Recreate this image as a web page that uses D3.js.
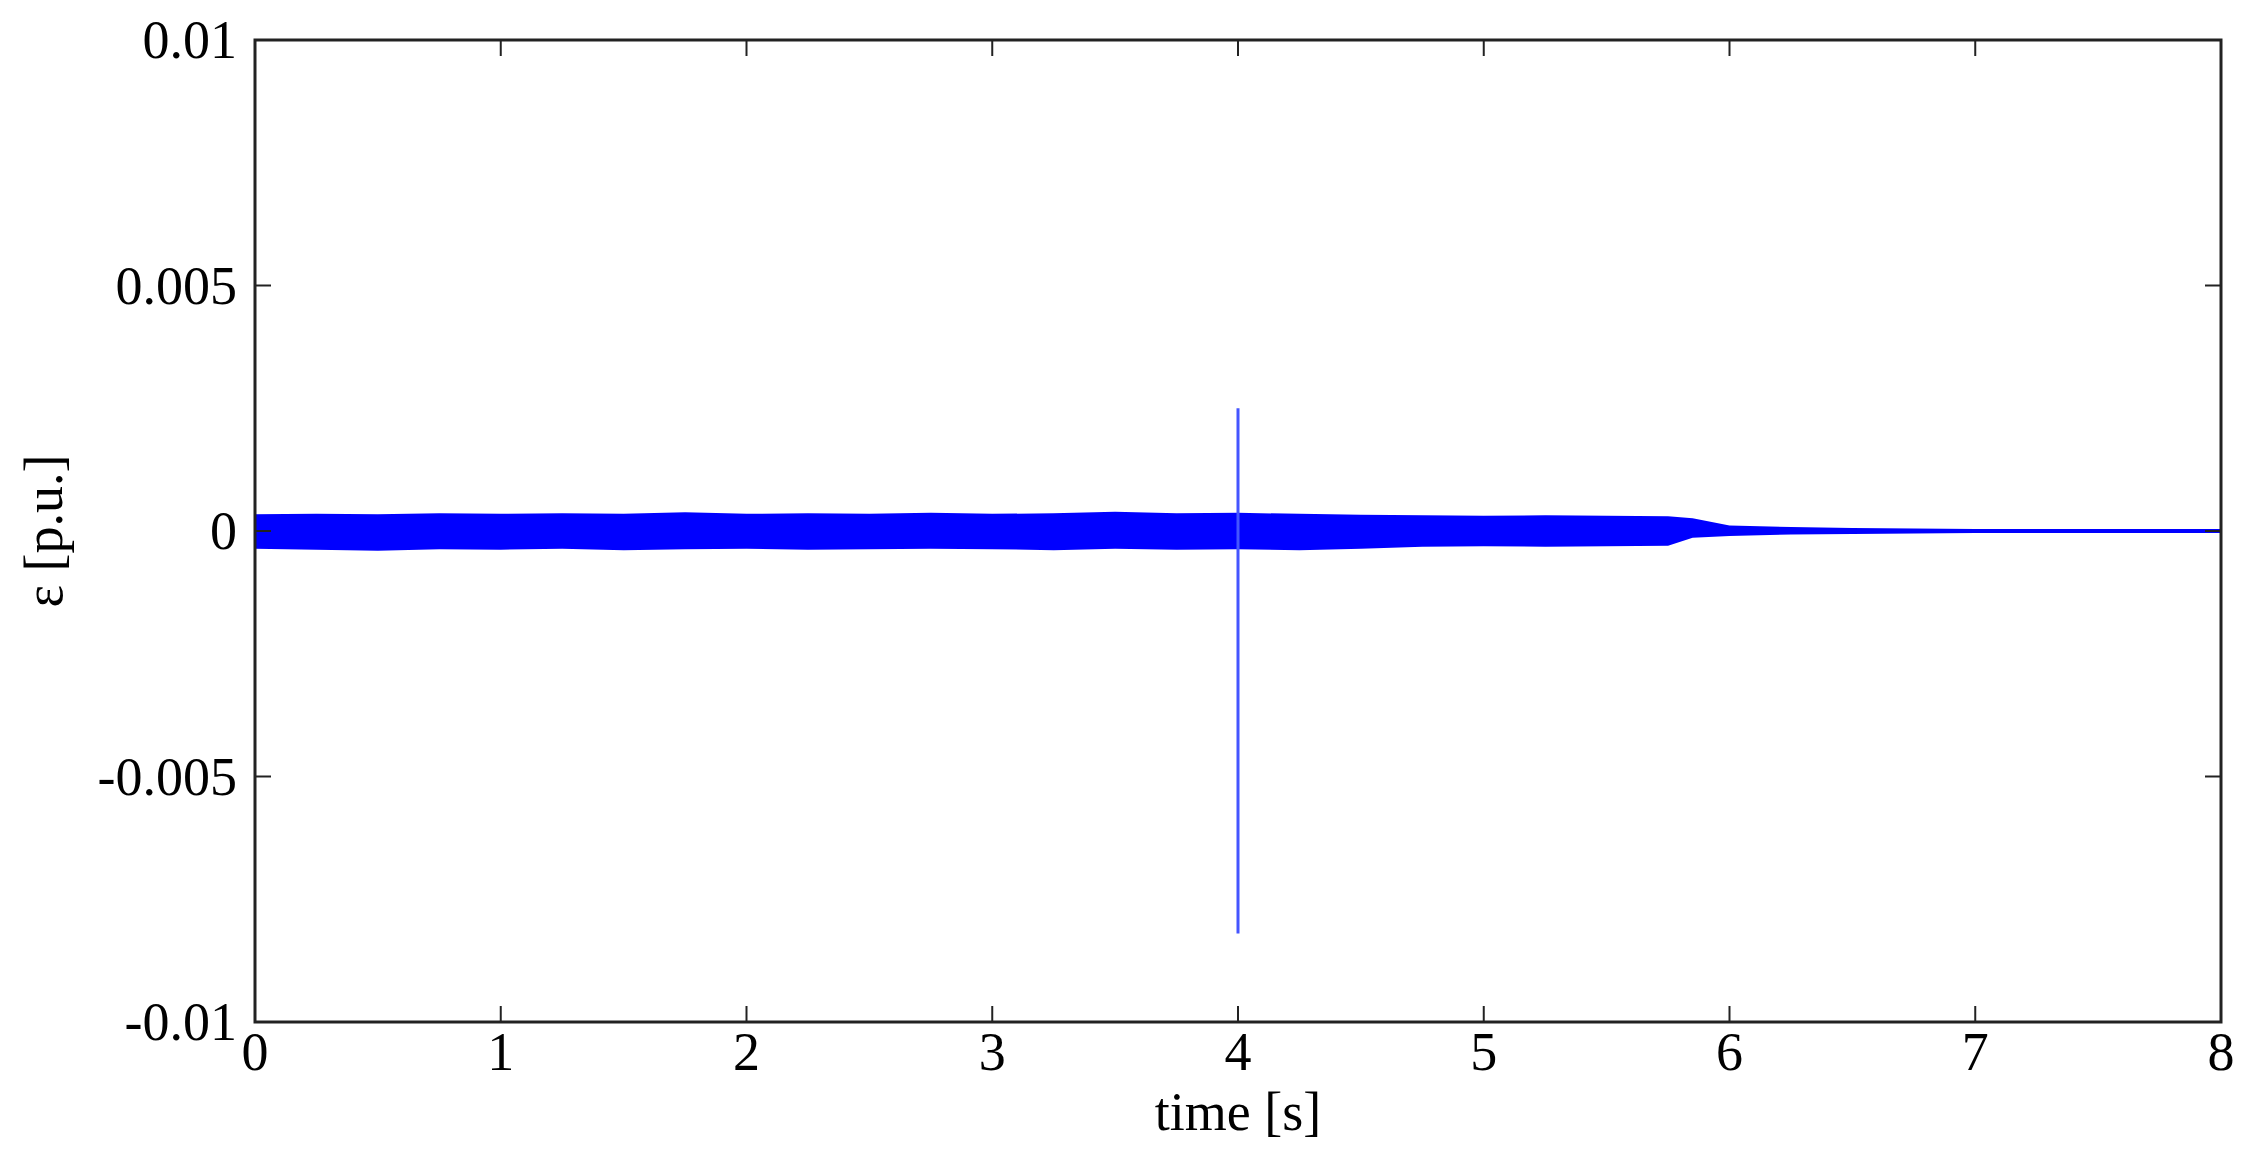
<!DOCTYPE html>
<html>
<head>
<meta charset="utf-8">
<script src="https://cdn.jsdelivr.net/npm/d3@7"></script>
<style>
  body { margin: 0; background: #fff; }
  text { font-family: "Liberation Serif", "Times New Roman", serif; }
</style>
</head>
<body>
<div id="chart"></div>
<script>
// envelope of the oscillation (s, p.u.)
const envTime = [0, 0.25, 0.5, 0.75, 1, 1.25, 1.5, 1.75, 2, 2.25, 2.5, 2.75, 3, 3.25, 3.5, 3.75, 4,
  4.25, 4.5, 4.75, 5, 5.25, 5.5, 5.75, 5.85, 6, 6.25, 6.5, 6.75, 7, 7.25, 7.5, 7.75, 8]
const envUpper = [0.00034, 0.00035, 0.00034, 0.00036, 0.00035, 0.00036, 0.00035, 0.00038, 0.00035, 0.00036, 0.00035, 0.00037,
  0.00035, 0.00036, 0.00039, 0.00036, 0.00037, 0.00035, 0.00033, 0.00032, 0.00031, 0.00032, 0.00031, 0.00030, 0.00026,
  0.00011, 0.00008, 0.00006, 0.00005, 0.00004, 0.00004, 0.00004, 0.00004, 0.00004]
const envLower = [-0.00036, -0.00038, -0.00040, -0.00037, -0.00038, -0.00036, -0.00039, -0.00037, -0.00036, -0.00038, -0.00037, -0.00036,
  -0.00037, -0.00039, -0.00036, -0.00038, -0.00037, -0.00039, -0.00036, -0.00032, -0.00031, -0.00032, -0.00031, -0.00030, -0.00014,
  -0.00010, -0.00007, -0.00006, -0.00005, -0.00004, -0.00004, -0.00004, -0.00004, -0.00004]
// transient spike at t = 4 s
const spikeTime = 4
const spikeMax = 0.0025
const spikeMin = -0.0082

const xTicks = [0, 1, 2, 3, 4, 5, 6, 7, 8]
const yTicks = [-0.01, -0.005, 0, 0.005, 0.01]
const yTickLabels = ['-0.01', '-0.005', '0', '0.005', '0.01']

const W = 2250, H = 1168
const m = { left: 255, right: 2221, top: 40, bottom: 1022 }

const svg = d3.select('#chart').append('svg').attr('width', W).attr('height', H)

const x = d3.scaleLinear().domain([0, 8]).range([m.left, m.right])
const y = d3.scaleLinear().domain([-0.01, 0.01]).range([m.bottom, m.top])

// signal envelope
const env = envTime.map((t, i) => ({ t, hi: envUpper[i], lo: envLower[i] }))
svg.append('path')
  .datum(env)
  .attr('fill', '#0000ff')
  .attr('d', d3.area().x(d => x(d.t)).y0(d => y(d.lo)).y1(d => y(d.hi)))

svg.append('line')
  .attr('x1', x(spikeTime)).attr('x2', x(spikeTime))
  .attr('y1', y(spikeMax)).attr('y2', y(spikeMin))
  .attr('stroke', '#4455ff').attr('stroke-width', 3)

// frame
svg.append('rect')
  .attr('x', m.left).attr('y', m.top)
  .attr('width', m.right - m.left).attr('height', m.bottom - m.top)
  .attr('fill', 'none').attr('stroke', '#222').attr('stroke-width', 3)

const tick = 16
xTicks.forEach(t => {
  svg.append('line').attr('x1', x(t)).attr('x2', x(t)).attr('y1', m.bottom).attr('y2', m.bottom - tick).attr('stroke', '#222').attr('stroke-width', 2)
  svg.append('line').attr('x1', x(t)).attr('x2', x(t)).attr('y1', m.top).attr('y2', m.top + tick).attr('stroke', '#222').attr('stroke-width', 2)
  svg.append('text').attr('x', x(t)).attr('y', m.bottom + 48)
    .attr('text-anchor', 'middle').attr('font-size', 54).text(t)
})
yTicks.forEach((v, i) => {
  svg.append('line').attr('x1', m.left).attr('x2', m.left + tick).attr('y1', y(v)).attr('y2', y(v)).attr('stroke', '#222').attr('stroke-width', 2)
  svg.append('line').attr('x1', m.right).attr('x2', m.right - tick).attr('y1', y(v)).attr('y2', y(v)).attr('stroke', '#222').attr('stroke-width', 2)
  svg.append('text').attr('x', m.left - 18).attr('y', y(v) + 18)
    .attr('text-anchor', 'end').attr('font-size', 54).text(yTickLabels[i])
})

svg.append('text').attr('x', x(4)).attr('y', m.bottom + 108)
  .attr('text-anchor', 'middle').attr('font-size', 54).text('time [s]')
svg.append('text')
  .attr('transform', `translate(62, ${y(0)}) rotate(-90)`)
  .attr('text-anchor', 'middle').attr('font-size', 54).text('ε [p.u.]')
</script>
</body>
</html>
